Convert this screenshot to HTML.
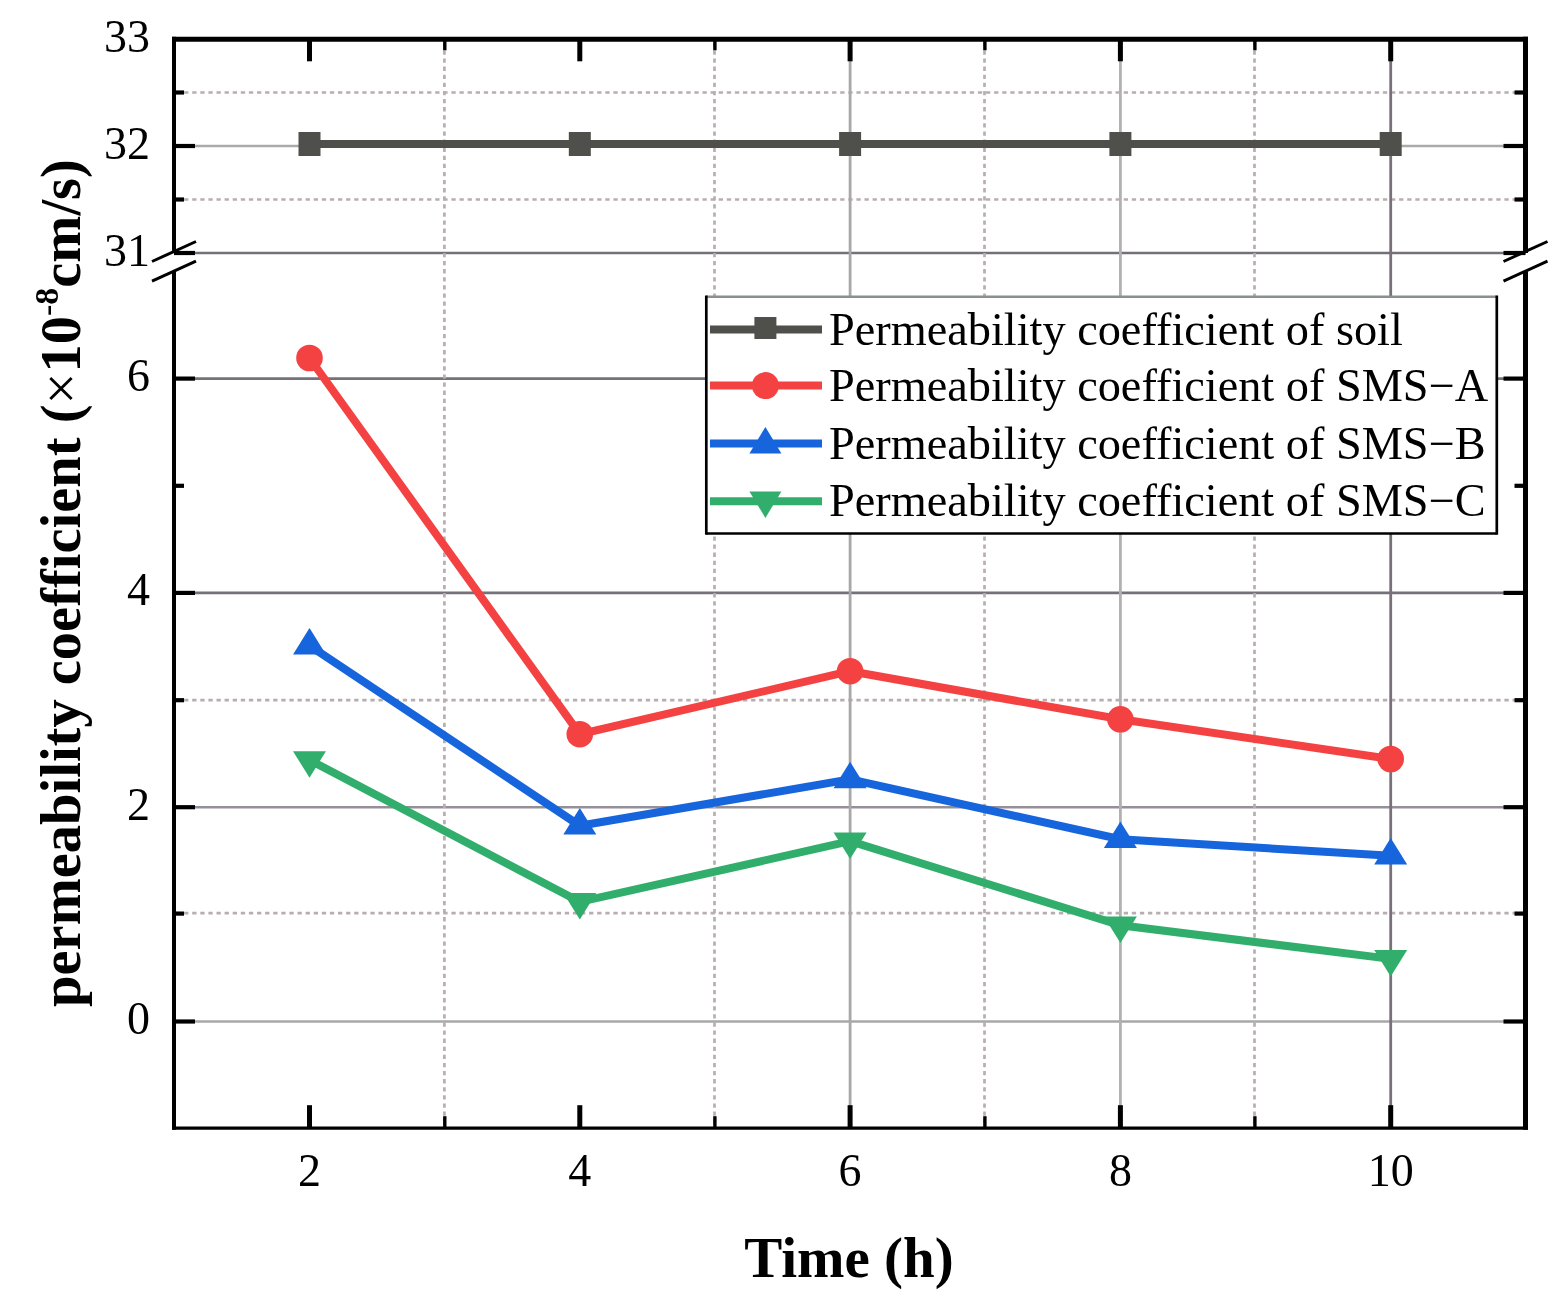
<!DOCTYPE html>
<html><head><meta charset="utf-8"><title>Permeability coefficient chart</title>
<style>html,body{margin:0;padding:0;background:#fff;overflow:hidden;width:1560px;height:1307px;} svg{display:block;}</style></head>
<body>
<svg width="1560" height="1307" viewBox="0 0 1560 1307">
<rect width="1560" height="1307" fill="#fff"/>
<line x1="174" y1="146" x2="1525.5" y2="146" stroke="#aaaaaa" stroke-width="2.4"/>
<line x1="174" y1="253" x2="1525.5" y2="253" stroke="#757078" stroke-width="2.4"/>
<line x1="174" y1="378.6" x2="1525.5" y2="378.6" stroke="#767079" stroke-width="2.6"/>
<line x1="174" y1="592.9" x2="1525.5" y2="592.9" stroke="#767079" stroke-width="2.6"/>
<line x1="174" y1="807.2" x2="1525.5" y2="807.2" stroke="#958f98" stroke-width="2.6"/>
<line x1="174" y1="1021.5" x2="1525.5" y2="1021.5" stroke="#a8a8a8" stroke-width="2.6"/>
<line x1="176" y1="92.5" x2="1523.5" y2="92.5" stroke="#b8aeaf" stroke-width="2.7" stroke-dasharray="4.3 3.8"/>
<line x1="176" y1="199.5" x2="1523.5" y2="199.5" stroke="#b8aeaf" stroke-width="2.7" stroke-dasharray="4.3 3.8"/>
<line x1="176" y1="700.2" x2="1523.5" y2="700.2" stroke="#b8aeaf" stroke-width="2.7" stroke-dasharray="4.3 3.8"/>
<line x1="176" y1="913.2" x2="1523.5" y2="913.2" stroke="#b8aeaf" stroke-width="2.7" stroke-dasharray="4.3 3.8"/>
<line x1="850.1" y1="39.3" x2="850.1" y2="1128.2" stroke="#a8a8a8" stroke-width="2.8"/>
<line x1="1120.4" y1="39.3" x2="1120.4" y2="1128.2" stroke="#b2b0b2" stroke-width="2.8"/>
<line x1="1390.7" y1="39.3" x2="1390.7" y2="1128.2" stroke="#797179" stroke-width="2.8"/>
<line x1="444.4" y1="42.3" x2="444.4" y2="1126.2" stroke="#b8aeaf" stroke-width="2.7" stroke-dasharray="4.3 3.8"/>
<line x1="714.5" y1="42.3" x2="714.5" y2="1126.2" stroke="#b8aeaf" stroke-width="2.7" stroke-dasharray="4.3 3.8"/>
<line x1="984.5" y1="42.3" x2="984.5" y2="1126.2" stroke="#b8aeaf" stroke-width="2.7" stroke-dasharray="4.3 3.8"/>
<line x1="1254.5" y1="42.3" x2="1254.5" y2="1126.2" stroke="#b8aeaf" stroke-width="2.7" stroke-dasharray="4.3 3.8"/>
<line x1="172" y1="39.3" x2="1528.0" y2="39.3" stroke="#000" stroke-width="5"/>
<line x1="172" y1="1128.2" x2="1528.0" y2="1128.2" stroke="#000" stroke-width="3.2"/>
<line x1="174" y1="36.8" x2="174" y2="253" stroke="#000" stroke-width="4"/>
<line x1="174" y1="271.44999999999993" x2="174" y2="1129.8" stroke="#000" stroke-width="4"/>
<line x1="1525.5" y1="36.8" x2="1525.5" y2="253" stroke="#000" stroke-width="5"/>
<line x1="1525.5" y1="271.44999999999993" x2="1525.5" y2="1129.8" stroke="#000" stroke-width="5"/>
<line x1="152" y1="261.5" x2="196" y2="241.5" stroke="#000" stroke-width="3"/>
<line x1="152" y1="281.2" x2="196" y2="261.2" stroke="#000" stroke-width="3"/>
<line x1="1503.5" y1="261.5" x2="1547.5" y2="241.5" stroke="#000" stroke-width="3"/>
<line x1="1503.5" y1="281.2" x2="1547.5" y2="261.2" stroke="#000" stroke-width="3"/>
<line x1="174" y1="146.0" x2="195" y2="146.0" stroke="#000" stroke-width="4.2"/>
<line x1="1525.5" y1="146.0" x2="1503.5" y2="146.0" stroke="#000" stroke-width="4.2"/>
<line x1="174" y1="253.0" x2="195" y2="253.0" stroke="#000" stroke-width="4.2"/>
<line x1="1525.5" y1="253.0" x2="1503.5" y2="253.0" stroke="#000" stroke-width="4.2"/>
<line x1="174" y1="378.6" x2="195" y2="378.6" stroke="#000" stroke-width="4.2"/>
<line x1="1525.5" y1="378.6" x2="1503.5" y2="378.6" stroke="#000" stroke-width="4.2"/>
<line x1="174" y1="592.9" x2="195" y2="592.9" stroke="#000" stroke-width="4.2"/>
<line x1="1525.5" y1="592.9" x2="1503.5" y2="592.9" stroke="#000" stroke-width="4.2"/>
<line x1="174" y1="807.2" x2="195" y2="807.2" stroke="#000" stroke-width="4.2"/>
<line x1="1525.5" y1="807.2" x2="1503.5" y2="807.2" stroke="#000" stroke-width="4.2"/>
<line x1="174" y1="1021.5" x2="195" y2="1021.5" stroke="#000" stroke-width="4.2"/>
<line x1="1525.5" y1="1021.5" x2="1503.5" y2="1021.5" stroke="#000" stroke-width="4.2"/>
<line x1="174" y1="92.5" x2="184" y2="92.5" stroke="#000" stroke-width="4.2"/>
<line x1="1525.5" y1="92.5" x2="1514.5" y2="92.5" stroke="#000" stroke-width="4.2"/>
<line x1="174" y1="199.5" x2="184" y2="199.5" stroke="#000" stroke-width="4.2"/>
<line x1="1525.5" y1="199.5" x2="1514.5" y2="199.5" stroke="#000" stroke-width="4.2"/>
<line x1="174" y1="485.8" x2="184" y2="485.8" stroke="#000" stroke-width="4.2"/>
<line x1="1525.5" y1="485.8" x2="1514.5" y2="485.8" stroke="#000" stroke-width="4.2"/>
<line x1="174" y1="700.2" x2="184" y2="700.2" stroke="#000" stroke-width="4.2"/>
<line x1="1525.5" y1="700.2" x2="1514.5" y2="700.2" stroke="#000" stroke-width="4.2"/>
<line x1="174" y1="913.6" x2="184" y2="913.6" stroke="#000" stroke-width="4.2"/>
<line x1="1525.5" y1="913.6" x2="1514.5" y2="913.6" stroke="#000" stroke-width="4.2"/>
<line x1="309.5" y1="1128.2" x2="309.5" y2="1105.2" stroke="#000" stroke-width="5"/>
<line x1="309.5" y1="39.3" x2="309.5" y2="61.3" stroke="#000" stroke-width="5"/>
<line x1="579.8" y1="1128.2" x2="579.8" y2="1105.2" stroke="#000" stroke-width="5"/>
<line x1="579.8" y1="39.3" x2="579.8" y2="61.3" stroke="#000" stroke-width="5"/>
<line x1="850.1" y1="1128.2" x2="850.1" y2="1105.2" stroke="#000" stroke-width="5"/>
<line x1="850.1" y1="39.3" x2="850.1" y2="61.3" stroke="#000" stroke-width="5"/>
<line x1="1120.4" y1="1128.2" x2="1120.4" y2="1105.2" stroke="#000" stroke-width="5"/>
<line x1="1120.4" y1="39.3" x2="1120.4" y2="61.3" stroke="#000" stroke-width="5"/>
<line x1="1390.7" y1="1128.2" x2="1390.7" y2="1105.2" stroke="#000" stroke-width="5"/>
<line x1="1390.7" y1="39.3" x2="1390.7" y2="61.3" stroke="#000" stroke-width="5"/>
<line x1="444.8" y1="1128.2" x2="444.8" y2="1116.2" stroke="#000" stroke-width="3.4"/>
<line x1="444.8" y1="39.3" x2="444.8" y2="50.3" stroke="#000" stroke-width="3.4"/>
<line x1="714.9" y1="1128.2" x2="714.9" y2="1116.2" stroke="#000" stroke-width="3.4"/>
<line x1="714.9" y1="39.3" x2="714.9" y2="50.3" stroke="#000" stroke-width="3.4"/>
<line x1="984.9" y1="1128.2" x2="984.9" y2="1116.2" stroke="#000" stroke-width="3.4"/>
<line x1="984.9" y1="39.3" x2="984.9" y2="50.3" stroke="#000" stroke-width="3.4"/>
<line x1="1254.9" y1="1128.2" x2="1254.9" y2="1116.2" stroke="#000" stroke-width="3.4"/>
<line x1="1254.9" y1="39.3" x2="1254.9" y2="50.3" stroke="#000" stroke-width="3.4"/>
<polyline points="309.5,144.0 579.8,144.0 850.1,144.0 1120.4,144.0 1390.7,144.0" fill="none" stroke="#4f4f4c" stroke-width="8" stroke-linejoin="miter"/>
<polyline points="309.5,358.0 579.8,734.2 850.1,671.2 1120.4,719.3 1390.7,759.0" fill="none" stroke="#f44242" stroke-width="8" stroke-linejoin="miter"/>
<polyline points="309.5,645.6 579.8,825.7 850.1,779.4 1120.4,839.2 1390.7,855.8" fill="none" stroke="#1665dd" stroke-width="8" stroke-linejoin="miter"/>
<polyline points="309.5,760.0 579.8,901.9 850.1,841.2 1120.4,925.2 1390.7,958.9" fill="none" stroke="#32ae6c" stroke-width="8" stroke-linejoin="miter"/>
<rect x="298.5" y="132.0" width="22" height="24" fill="#4f4f4c"/>
<rect x="568.8" y="132.0" width="22" height="24" fill="#4f4f4c"/>
<rect x="839.1" y="132.0" width="22" height="24" fill="#4f4f4c"/>
<rect x="1109.4" y="132.0" width="22" height="24" fill="#4f4f4c"/>
<rect x="1379.7" y="132.0" width="22" height="24" fill="#4f4f4c"/>
<circle cx="309.5" cy="358.0" r="13.3" fill="#f44242"/>
<circle cx="579.8" cy="734.2" r="13.3" fill="#f44242"/>
<circle cx="850.1" cy="671.2" r="13.3" fill="#f44242"/>
<circle cx="1120.4" cy="719.3" r="13.3" fill="#f44242"/>
<circle cx="1390.7" cy="759.0" r="13.3" fill="#f44242"/>
<polygon points="309.5,627.9 326.0,654.4 293.0,654.4" fill="#1665dd"/>
<polygon points="579.8,808.0 596.3,834.5 563.3,834.5" fill="#1665dd"/>
<polygon points="850.1,761.7 866.6,788.2 833.6,788.2" fill="#1665dd"/>
<polygon points="1120.4,821.5 1136.9,848.0 1103.9,848.0" fill="#1665dd"/>
<polygon points="1390.7,838.1 1407.2,864.6 1374.2,864.6" fill="#1665dd"/>
<polygon points="293.0,751.2 326.0,751.2 309.5,777.7" fill="#32ae6c"/>
<polygon points="563.3,893.1 596.3,893.1 579.8,919.6" fill="#32ae6c"/>
<polygon points="833.6,832.4 866.6,832.4 850.1,858.9" fill="#32ae6c"/>
<polygon points="1103.9,916.4 1136.9,916.4 1120.4,942.9" fill="#32ae6c"/>
<polygon points="1374.2,950.1 1407.2,950.1 1390.7,976.6" fill="#32ae6c"/>
<text x="150" y="51.8" font-family="&apos;Liberation Serif&apos;, &apos;Times New Roman&apos;, serif" font-size="46"  text-anchor="end">33</text>
<text x="150" y="158.5" font-family="&apos;Liberation Serif&apos;, &apos;Times New Roman&apos;, serif" font-size="46"  text-anchor="end">32</text>
<text x="150" y="265.5" font-family="&apos;Liberation Serif&apos;, &apos;Times New Roman&apos;, serif" font-size="46"  text-anchor="end">31</text>
<text x="150" y="391.1" font-family="&apos;Liberation Serif&apos;, &apos;Times New Roman&apos;, serif" font-size="46"  text-anchor="end">6</text>
<text x="150" y="605.4" font-family="&apos;Liberation Serif&apos;, &apos;Times New Roman&apos;, serif" font-size="46"  text-anchor="end">4</text>
<text x="150" y="819.7" font-family="&apos;Liberation Serif&apos;, &apos;Times New Roman&apos;, serif" font-size="46"  text-anchor="end">2</text>
<text x="150" y="1034.0" font-family="&apos;Liberation Serif&apos;, &apos;Times New Roman&apos;, serif" font-size="46"  text-anchor="end">0</text>
<text x="309.5" y="1186" font-family="&apos;Liberation Serif&apos;, &apos;Times New Roman&apos;, serif" font-size="46"  text-anchor="middle">2</text>
<text x="579.8" y="1186" font-family="&apos;Liberation Serif&apos;, &apos;Times New Roman&apos;, serif" font-size="46"  text-anchor="middle">4</text>
<text x="850.1" y="1186" font-family="&apos;Liberation Serif&apos;, &apos;Times New Roman&apos;, serif" font-size="46"  text-anchor="middle">6</text>
<text x="1120.4" y="1186" font-family="&apos;Liberation Serif&apos;, &apos;Times New Roman&apos;, serif" font-size="46"  text-anchor="middle">8</text>
<text x="1390.7" y="1186" font-family="&apos;Liberation Serif&apos;, &apos;Times New Roman&apos;, serif" font-size="46"  text-anchor="middle">10</text>
<text x="849" y="1277" font-family="&apos;Liberation Serif&apos;, &apos;Times New Roman&apos;, serif" font-size="57" font-weight="bold" text-anchor="middle">Time (h)</text>
<text transform="translate(80,583) rotate(-90)" font-family="&apos;Liberation Serif&apos;, &apos;Times New Roman&apos;, serif" font-size="56.5" font-weight="bold" text-anchor="middle">permeability coefficient (<tspan font-weight="normal">×</tspan>10<tspan dy="-22" font-size="34"><tspan font-weight="normal">-</tspan>8</tspan><tspan dy="22">cm/s)</tspan></text>
<rect x="706.3" y="296.7" width="790.5" height="236.8" fill="#fff" stroke="none"/>
<line x1="706.3" y1="296.7" x2="1496.8" y2="296.7" stroke="#8a9090" stroke-width="2.4"/>
<line x1="706.3" y1="295.5" x2="706.3" y2="534.7" stroke="#000" stroke-width="2.7"/>
<line x1="1496.8" y1="295.5" x2="1496.8" y2="534.7" stroke="#000" stroke-width="2.7"/>
<line x1="706.3" y1="533.5" x2="1496.8" y2="533.5" stroke="#000" stroke-width="2.7"/>
<line x1="710" y1="329.5" x2="822" y2="329.5" stroke="#4f4f4c" stroke-width="8"/>
<rect x="754.4" y="317.0" width="22" height="22" fill="#4f4f4c"/>
<text x="829" y="344.5" font-family="&apos;Liberation Serif&apos;, &apos;Times New Roman&apos;, serif" font-size="46.3" >Permeability coefficient of soil</text>
<line x1="710" y1="385.6" x2="822" y2="385.6" stroke="#f44242" stroke-width="8"/>
<circle cx="765.4" cy="385.6" r="13.5" fill="#f44242"/>
<text x="829" y="400.6" font-family="&apos;Liberation Serif&apos;, &apos;Times New Roman&apos;, serif" font-size="46.3" >Permeability coefficient of SMS−A</text>
<line x1="710" y1="443.6" x2="822" y2="443.6" stroke="#1665dd" stroke-width="8"/>
<polygon points="765.4,426.9 781.4,453.4 749.4,453.4" fill="#1665dd"/>
<text x="829" y="458.6" font-family="&apos;Liberation Serif&apos;, &apos;Times New Roman&apos;, serif" font-size="46.3" >Permeability coefficient of SMS−B</text>
<line x1="710" y1="501.2" x2="822" y2="501.2" stroke="#32ae6c" stroke-width="8"/>
<polygon points="749.4,491.4 781.4,491.4 765.4,517.9" fill="#32ae6c"/>
<text x="829" y="516.2" font-family="&apos;Liberation Serif&apos;, &apos;Times New Roman&apos;, serif" font-size="46.3" >Permeability coefficient of SMS−C</text>
</svg>
</body></html>
